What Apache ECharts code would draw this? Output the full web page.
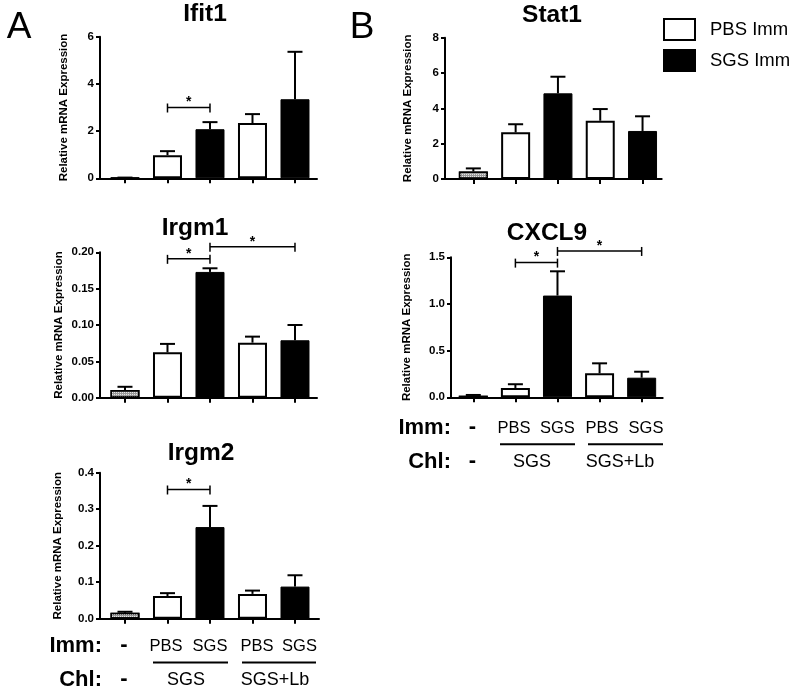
<!DOCTYPE html>
<html>
<head>
<meta charset="utf-8">
<script src="https://cdn.jsdelivr.net/npm/echarts@6/dist/echarts.min.js"></script>
<style>
html,body{margin:0;padding:0;background:#fff;}
#chart{width:795px;height:692px;}
</style>
</head>
<body>
<div id="chart"></div>
<script>
// ---------------- data ----------------
const categories = ['Control', 'PBS Imm / SGS Chl', 'SGS Imm / SGS Chl', 'PBS Imm / SGS+Lb Chl', 'SGS Imm / SGS+Lb Chl'];
const groupOf = ['Control', 'PBS Imm', 'SGS Imm', 'PBS Imm', 'SGS Imm'];
const immLabels = ['-', 'PBS', 'SGS', 'PBS', 'SGS'];
const chlLabels = ['-', 'SGS', 'SGS+Lb'];
const legendNames = ['PBS Imm', 'SGS Imm'];
const yAxisTitle = 'Relative mRNA Expression';

const genes = ['Ifit1', 'Irgm1', 'Irgm2', 'Stat1', 'CXCL9'];

const ifit1Mean = [0.02, 0.98, 2.08, 2.34, 3.35];
const ifit1Sem  = [0.01, 0.17, 0.30, 0.38, 2.01];
const ifit1Sig  = [[1, 2, 3.0]];
const ifit1Ticks = [0, 2, 4, 6];

const irgm1Mean = [0.0106, 0.0624, 0.173, 0.0757, 0.079];
const irgm1Sem  = [0.0044, 0.0116, 0.005, 0.0083, 0.021];
const irgm1Sig  = [[1, 2, 0.191], [2, 4, 0.2077]];
const irgm1Ticks = [0, 0.05, 0.10, 0.15, 0.20];

const irgm2Mean = [0.016, 0.062, 0.251, 0.068, 0.088];
const irgm2Sem  = [0.003, 0.008, 0.058, 0.009, 0.031];
const irgm2Sig  = [[1, 2, 0.354]];
const irgm2Ticks = [0, 0.1, 0.2, 0.3, 0.4];

const stat1Mean = [0.43, 2.64, 4.85, 3.30, 2.72];
const stat1Sem  = [0.17, 0.46, 0.94, 0.66, 0.83];
const stat1Sig  = [];
const stat1Ticks = [0, 2, 4, 6, 8];

const cxcl9Mean = [0.017, 0.10, 1.09, 0.257, 0.21];
const cxcl9Sem  = [0.008, 0.04, 0.26, 0.107, 0.064];
const cxcl9Sig  = [[1, 2, 1.443], [2, 4, 1.568]];
const cxcl9Ticks = [0, 0.5, 1.0, 1.5];

// ---------------- layout ----------------
const FONT = '"Liberation Sans", Arial, Helvetica, sans-serif';
const panels = [
  {title: genes[0], mean: ifit1Mean, sem: ifit1Sem, sig: ifit1Sig, ticks: ifit1Ticks, dec: 0,
   left: 100, top: 36.7, width: 217, height: 141.6, xmin: -0.588, xmax: 4.518, nameGap: 30, tx: 205, ty: 14},
  {title: genes[1], mean: irgm1Mean, sem: irgm1Sem, sig: irgm1Sig, ticks: irgm1Ticks, dec: 2,
   left: 100, top: 252.3, width: 217, height: 145.4, xmin: -0.588, xmax: 4.518, nameGap: 35, tx: 195, ty: 228.5},
  {title: genes[2], mean: irgm2Mean, sem: irgm2Sem, sig: irgm2Sig, ticks: irgm2Ticks, dec: 1,
   left: 100, top: 472.7, width: 219, height: 146, xmin: -0.588, xmax: 4.565, nameGap: 36, tx: 201, ty: 453.5},
  {title: genes[3], mean: stat1Mean, sem: stat1Sem, sig: stat1Sig, ticks: stat1Ticks, dec: 0,
   left: 445, top: 37.7, width: 216.7, height: 141.3, xmin: -0.67, xmax: 4.453, nameGap: 31, tx: 552, ty: 15},
  {title: genes[4], mean: cxcl9Mean, sem: cxcl9Sem, sig: cxcl9Sig, ticks: cxcl9Ticks, dec: 1,
   left: 451, top: 257.3, width: 211.7, height: 140, xmin: -0.53, xmax: 4.5, nameGap: 38, tx: 547, ty: 233.5}
];

const styles = {
  'Control': {color: '#9a9a9a', borderColor: '#000', borderWidth: 1.5,
              decal: {symbol: 'rect', symbolSize: 1, dashArrayX: [1, 1], dashArrayY: [1, 1], color: '#e6e6e6'}},
  'PBS Imm': {color: '#ffffff', borderColor: '#000', borderWidth: 2},
  'SGS Imm': {color: '#000000', borderColor: '#000', borderWidth: 1}
};

const grid = [], xAxis = [], yAxis = [], series = [];
panels.forEach((p, i) => {
  grid.push({left: p.left, top: p.top, width: p.width, height: p.height, containLabel: false});
  xAxis.push({
    type: 'value', gridIndex: i, min: p.xmin, max: p.xmax,
    splitLine: {show: false},
    axisLine: {show: true, onZero: false, lineStyle: {color: '#000', width: 2}},
    axisTick: {show: true, length: 5, lineStyle: {color: '#000', width: 2}, customValues: [0, 1, 2, 3, 4]},
    axisLabel: {show: false}
  });
  const step = p.ticks[1] - p.ticks[0];
  yAxis.push({
    type: 'value', gridIndex: i, min: p.ticks[0], max: p.ticks[p.ticks.length - 1], interval: step,
    splitLine: {show: false},
    axisLine: {show: true, onZero: false, lineStyle: {color: '#000', width: 2}},
    axisTick: {show: true, length: 4, lineStyle: {color: '#000', width: 2}},
    axisLabel: {color: '#000', fontWeight: 'bold', fontSize: 11.5, fontFamily: FONT, margin: 6,
                formatter: v => Number(v).toFixed(p.dec)},
    name: yAxisTitle, nameLocation: 'middle', nameRotate: 90, nameGap: p.nameGap,
    nameTextStyle: {color: '#000', fontWeight: 'bold', fontSize: 11.5, fontFamily: FONT}
  });
  ['Control', 'PBS Imm', 'SGS Imm'].forEach(g => {
    const data = [];
    p.mean.forEach((m, k) => { if (groupOf[k] === g) data.push([k, m]); });
    series.push({
      type: 'bar', name: g, xAxisIndex: i, yAxisIndex: i, barWidth: 29, barGap: '-100%',
      itemStyle: styles[g], data: data, silent: true, animation: false, z: 2
    });
  });
  series.push({
    type: 'custom', xAxisIndex: i, yAxisIndex: i, silent: true, animation: false, z: 3,
    data: p.mean.map((m, k) => [k, m, p.sem[k]]),
    renderItem: (params, api) => {
      const x = api.value(0), m = api.value(1), s = api.value(2);
      const a = api.coord([x, m]), b = api.coord([x, m + s]);
      const ls = {stroke: '#000', lineWidth: 2};
      return {type: 'group', children: [
        {type: 'line', shape: {x1: a[0], y1: a[1], x2: b[0], y2: b[1]}, style: ls},
        {type: 'line', shape: {x1: b[0] - 7.5, y1: b[1], x2: b[0] + 7.5, y2: b[1]}, style: ls}
      ]};
    }
  });
  if (p.sig.length) {
    series.push({
      type: 'custom', xAxisIndex: i, yAxisIndex: i, silent: true, animation: false, z: 3, clip: false,
      data: p.sig,
      renderItem: (params, api) => {
        const a = api.coord([api.value(0), api.value(2)]);
        const b = api.coord([api.value(1), api.value(2)]);
        const ls = {stroke: '#000', lineWidth: 1.5};
        return {type: 'group', children: [
          {type: 'line', shape: {x1: a[0], y1: a[1], x2: b[0], y2: b[1]}, style: ls},
          {type: 'line', shape: {x1: a[0], y1: a[1] - 4, x2: a[0], y2: a[1] + 5}, style: ls},
          {type: 'line', shape: {x1: b[0], y1: b[1] - 4, x2: b[0], y2: b[1] + 5}, style: ls},
          {type: 'text', x: (a[0] + b[0]) / 2, y: a[1] - 5,
           style: {text: '*', fill: '#000', font: 'bold 14px ' + FONT, textAlign: 'center', textVerticalAlign: 'middle'}}
        ]};
      }
    });
  }
});

// ---------------- text graphics ----------------
const graphic = [];
function txt(x, y, text, size, weight, align) {
  graphic.push({type: 'text', x: x, y: y, silent: true,
    style: {text: text, fill: '#000', font: (weight || 'normal') + ' ' + size + 'px ' + FONT,
            textAlign: align || 'center', textVerticalAlign: 'middle'}});
}
function hline(x1, x2, y) {
  graphic.push({type: 'line', silent: true, shape: {x1: x1, y1: y, x2: x2, y2: y},
    style: {stroke: '#000', lineWidth: 2}});
}
panels.forEach(p => txt(p.tx, p.ty, p.title, 24.5, 'bold'));
txt(19, 28, 'A', 37, 'normal');
txt(362, 28, 'B', 37, 'normal');

const rowSets = [
  {immX: [124, 166, 210, 257, 299.5], chlX: [124, 186, 275], headR: 102, immY: 646, chlY: 680, lineY: 662.5,
   lines: [[153, 228], [242, 316]]},
  {immX: [472.3, 514, 557.3, 602, 646], chlX: [472.3, 532, 620], headR: 451, immY: 428, chlY: 462, lineY: 444.3,
   lines: [[500, 575], [588, 663]]}
];
rowSets.forEach(r => {
  txt(r.headR, r.immY, 'Imm:', 22, 'bold', 'right');
  txt(r.headR, r.chlY, 'Chl:', 22, 'bold', 'right');
  immLabels.forEach((t, k) => txt(r.immX[k], r.immY - (t === '-' ? 1 : 0), t, t === '-' ? 22 : 16.5, t === '-' ? 'bold' : 'normal'));
  chlLabels.forEach((t, k) => txt(r.chlX[k], r.chlY - (t === '-' ? 1 : 0), t, t === '-' ? 22 : 18, t === '-' ? 'bold' : 'normal'));
  r.lines.forEach(l => hline(l[0], l[1], r.lineY));
});

const chart = echarts.init(document.getElementById('chart'), null, {renderer: 'canvas'});
chart.setOption({
  animation: false,
  backgroundColor: '#fff',
  textStyle: {fontFamily: FONT},
  legend: {
    data: legendNames, orient: 'vertical', left: 663, top: 18, itemWidth: 31, itemHeight: 21, itemGap: 8,
    selectedMode: false, icon: 'rect', padding: 0,
    textStyle: {color: '#000', fontSize: 18.5, lineHeight: 20, fontFamily: FONT, padding: [0, 0, 0, 10]}
  },
  grid: grid, xAxis: xAxis, yAxis: yAxis, series: series, graphic: graphic
});
</script>
</body>
</html>
